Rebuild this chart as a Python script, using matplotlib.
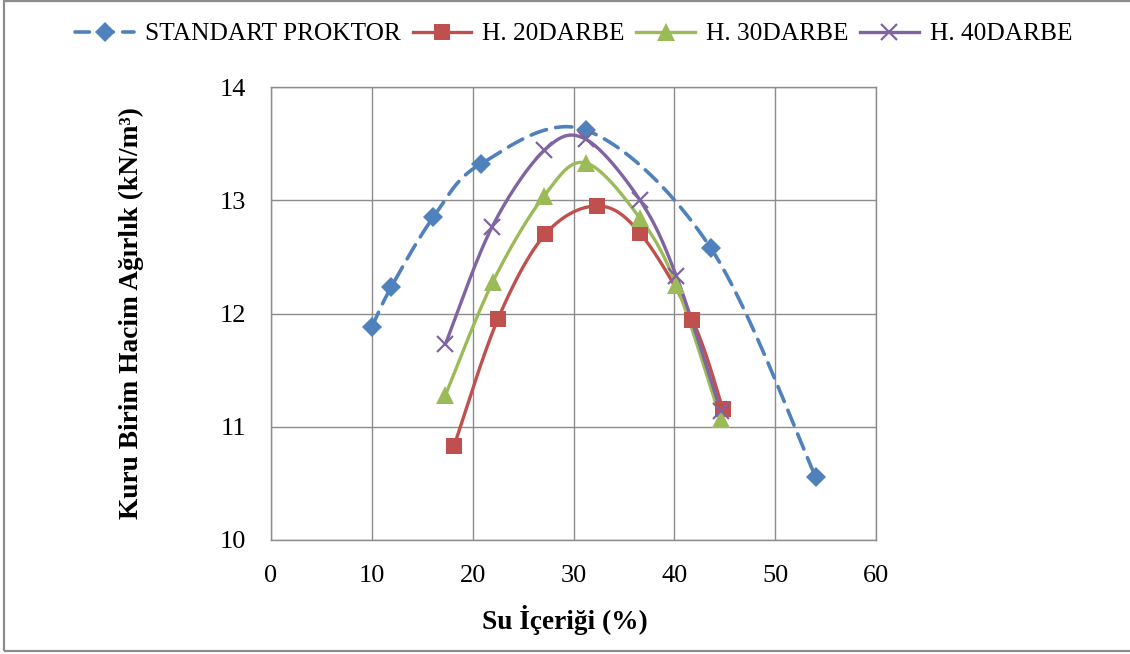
import numpy as np
import matplotlib
matplotlib.use("Agg")
import matplotlib.pyplot as plt
from matplotlib.patches import Rectangle

# ---- data ----
sp_x = [10.0, 11.9, 16.1, 20.8, 31.2, 43.6, 54.0]
sp_y = [11.88, 12.23, 12.85, 13.32, 13.62, 12.58, 10.56]

h20_x = [18.15, 22.5, 27.2, 32.3, 36.6, 41.8, 44.8]
h20_y = [10.83, 11.95, 12.70, 12.95, 12.71, 11.94, 11.16]

h30_x = [17.3, 22.0, 27.1, 31.2, 36.6, 40.2, 44.6]
h30_y = [11.28, 12.28, 13.04, 13.33, 12.84, 12.25, 11.07]

h40_x = [17.3, 21.9, 27.1, 31.2, 36.6, 40.2, 44.6]
h40_y = [11.73, 12.76, 13.44, 13.54, 13.00, 12.33, 11.14]

labels = ["STANDART PROKTOR", "H. 20DARBE", "H. 30DARBE", "H. 40DARBE"]
x_ticks = [0, 10, 20, 30, 40, 50, 60]
y_ticks = [10, 11, 12, 13, 14]

colors = ["#4F81BD", "#C0504D", "#9BBB59", "#8064A2"]


def smooth(xs, ys, n=40):
    """Excel-like smoothed line (Catmull-Rom Bezier)."""
    P = np.column_stack([xs, ys]).astype(float)
    m = len(P)
    out = []
    for i in range(m - 1):
        p0 = P[i - 1] if i > 0 else P[i]
        p1 = P[i]
        p2 = P[i + 1]
        p3 = P[i + 2] if i + 2 < m else P[i + 1]
        c1 = p1 + (p2 - p0) / 6.0
        c2 = p2 - (p3 - p1) / 6.0
        t = np.linspace(0, 1, n)[:, None]
        seg = ((1 - t) ** 3) * p1 + 3 * ((1 - t) ** 2) * t * c1 + 3 * (1 - t) * t ** 2 * c2 + t ** 3 * p2
        out.append(seg if i == 0 else seg[1:])
    S = np.vstack(out)
    return S[:, 0], S[:, 1]


plt.rcParams["font.family"] = ["Liberation Serif", "DejaVu Serif"]

fig = plt.figure(figsize=(11.3, 6.54), dpi=100)
ax = fig.add_axes([271 / 1130, 1 - 540 / 654, (876 - 271) / 1130, (540 - 87) / 654])

series = [(sp_x, sp_y), (h20_x, h20_y), (h30_x, h30_y), (h40_x, h40_y)]
markers = ["D", "s", "^", "x"]
msizes = [10, 12, 13, 12]
handles = []
for k, ((xs, ys), c, mk, ms, lab) in enumerate(zip(series, colors, markers, msizes, labels)):
    sx, sy = smooth(xs, ys)
    if k == 0:
        ax.plot(sx, sy, color=c, lw=2.6, dashes=(4.5, 2.6), dash_capstyle="round", zorder=3)
    else:
        ax.plot(sx, sy, color=c, lw=2.4, zorder=3)
    ax.plot(xs, ys, ls="none", marker=mk, color=c, ms=ms,
            mew=1.6 if mk == "x" else 0, zorder=4)
    if k == 0:
        h, = ax.plot([], [], color=c, lw=2.6, dashes=(4, 2.6), dash_capstyle="round",
                     marker=mk, ms=ms, mew=0, label=lab)
    else:
        h, = ax.plot([], [], color=c, lw=2.4, marker=mk, ms=ms,
                     mew=1.6 if mk == "x" else 0, label=lab)
    handles.append(h)

ax.set_xlim(0, 60)
ax.set_ylim(10, 14)
ax.set_xticks(x_ticks)
ax.set_yticks(y_ticks)
ax.tick_params(length=0, labelsize=19)
ax.tick_params(axis="y", pad=18)
ax.tick_params(axis="x", pad=18)
ax.grid(True, color="#8C8C8C", lw=1.0)
ax.set_axisbelow(True)
for s in ax.spines.values():
    s.set_color("#8C8C8C")
    s.set_linewidth(1.0)

ax.set_xlabel("Su İçeriği (%)", fontsize=19.7, fontweight="bold", labelpad=13)
ax.xaxis.label.set_x(0.485)
ax.set_ylabel("Kuru Birim Hacim Ağırlık (kN/m³)", fontsize=19.7, fontweight="bold", labelpad=54)

fig.legend(handles=handles, loc="center", bbox_to_anchor=(574 / 1130, 1 - 34 / 654),
           ncol=4, frameon=False, fontsize=18.3, handlelength=2.3, columnspacing=0.45,
           handletextpad=0.45)

fig.patches.append(Rectangle((4 / 1130, 3 / 654), 1.2, 1 - 4 / 654, transform=fig.transFigure,
                             fill=False, edgecolor="#8C8C8C", lw=1.6))

fig.savefig("out.png", dpi=100)
